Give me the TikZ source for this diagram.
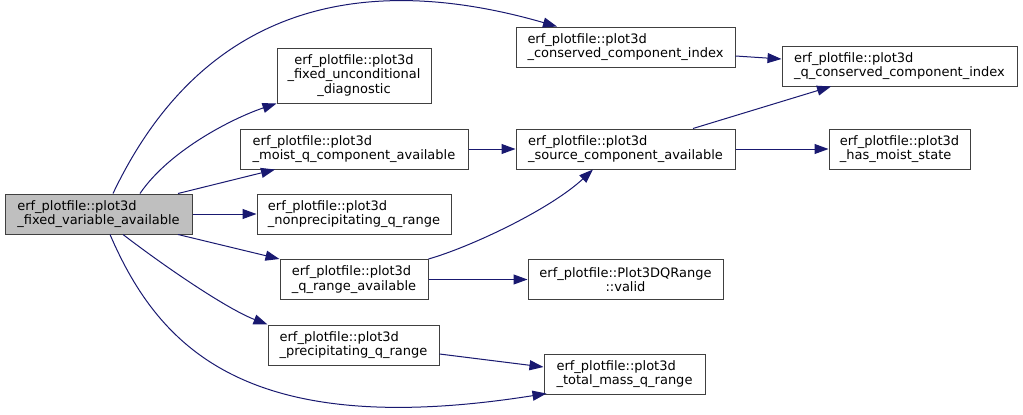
\documentclass[tikz,border=0pt]{standalone}
\usepackage{fontspec}
\setmainfont{DejaVu Sans}
\usepackage{xcolor}
\definecolor{EdgeNavy}{HTML}{191970}
\definecolor{BoxGrey}{HTML}{404040}
\definecolor{RootGrey}{HTML}{BFBFBF}
\usepackage{tikz}
\usetikzlibrary{arrows.meta}

\begin{document}
\begin{tikzpicture}[x=1pt,y=-1pt,
  fn/.style={draw=BoxGrey,fill=white,line width=1pt,inner sep=0pt,align=left,font=\fontsize{13}{14.5}\selectfont,minimum height=40pt},
  arr/.style={-{Triangle[length=14pt,width=10pt]},line width=1pt,EdgeNavy}
]
  \useasboundingbox (0,0) rectangle (1023,415);
  \node[fn,fill=RootGrey,minimum width=187pt] (root) at (98.5,214) {erf\_plotfile::plot3d\\\_fixed\_variable\_available};
  \node[fn,align=center,minimum width=154pt,minimum height=55pt] (diag) at (354,75.5) {erf\_plotfile::plot3d\\\_fixed\_unconditional\\\_diagnostic};
  \node[fn,minimum width=228pt] (moist) at (354,149) {erf\_plotfile::plot3d\\\_moist\_q\_component\_available};
  \node[fn,minimum width=194pt] (nonprecip) at (354,214) {erf\_plotfile::plot3d\\\_nonprecipitating\_q\_range};
  \node[fn,minimum width=148pt] (qrange) at (354,279.5) {erf\_plotfile::plot3d\\\_q\_range\_available};
  \node[fn,minimum width=171pt] (precip) at (353.5,345) {erf\_plotfile::plot3d\\\_precipitating\_q\_range};
  \node[fn,minimum width=219pt] (conserved) at (625.5,47) {erf\_plotfile::plot3d\\\_conserved\_component\_index};
  \node[fn,minimum width=219pt] (source) at (625.5,149) {erf\_plotfile::plot3d\\\_source\_component\_available};
  \node[fn,align=center,minimum width=195pt] (valid) at (625.5,279.5) {erf\_plotfile::Plot3DQRange\\::valid};
  \node[fn,minimum width=161pt] (totalmass) at (624.5,374) {erf\_plotfile::plot3d\\\_total\_mass\_q\_range};
  \node[fn,minimum width=235pt] (qconserved) at (899.5,66) {erf\_plotfile::plot3d\\\_q\_conserved\_component\_index};
  \node[fn,minimum width=141pt] (moiststate) at (899.5,149) {erf\_plotfile::plot3d\\\_has\_moist\_state};

  \draw[arr] ([xshift=14.5pt]root.north) .. controls +(95,-199.5) and +(-180,-52) .. ([xshift=-68.5pt]conserved.north);
  \draw[arr] ([xshift=41.5pt]root.north) .. controls +(30,-44) and +(-42,14) .. (diag.south west);
  \draw[arr] ([xshift=79.5pt]root.north) -- ([xshift=-79pt]moist.south);
  \draw[arr] (root.east) -- (nonprecip.west);
  \draw[arr] ([xshift=79.5pt]root.south) -- (qrange.north west);
  \draw[arr] ([xshift=24.5pt]root.south) .. controls +(47,36) and +(-39,-15) .. (precip.north west);
  \draw[arr] ([xshift=11.5pt]root.south) .. controls +(50,116) and +(-297,47) .. ([xshift=3pt,yshift=1pt]totalmass.south west);
  \draw[arr] (moist.east) -- (source.west);
  \draw[arr] (qrange.north east) .. controls +(42,-12) and +(-43,40) .. ([xshift=-32.5pt]source.south);
  \draw[arr] (qrange.east) -- (valid.west);
  \draw[arr] ([yshift=-9pt]precip.east) -- ([yshift=7pt]totalmass.west);
  \draw[arr] ([yshift=-9pt]conserved.east) -- ([yshift=7pt]qconserved.west);
  \draw[arr] ([xshift=67.5pt]source.north) -- ([xshift=-68.5pt]qconserved.south);
  \draw[arr] (source.east) -- (moiststate.west);
\end{tikzpicture}
\end{document}
